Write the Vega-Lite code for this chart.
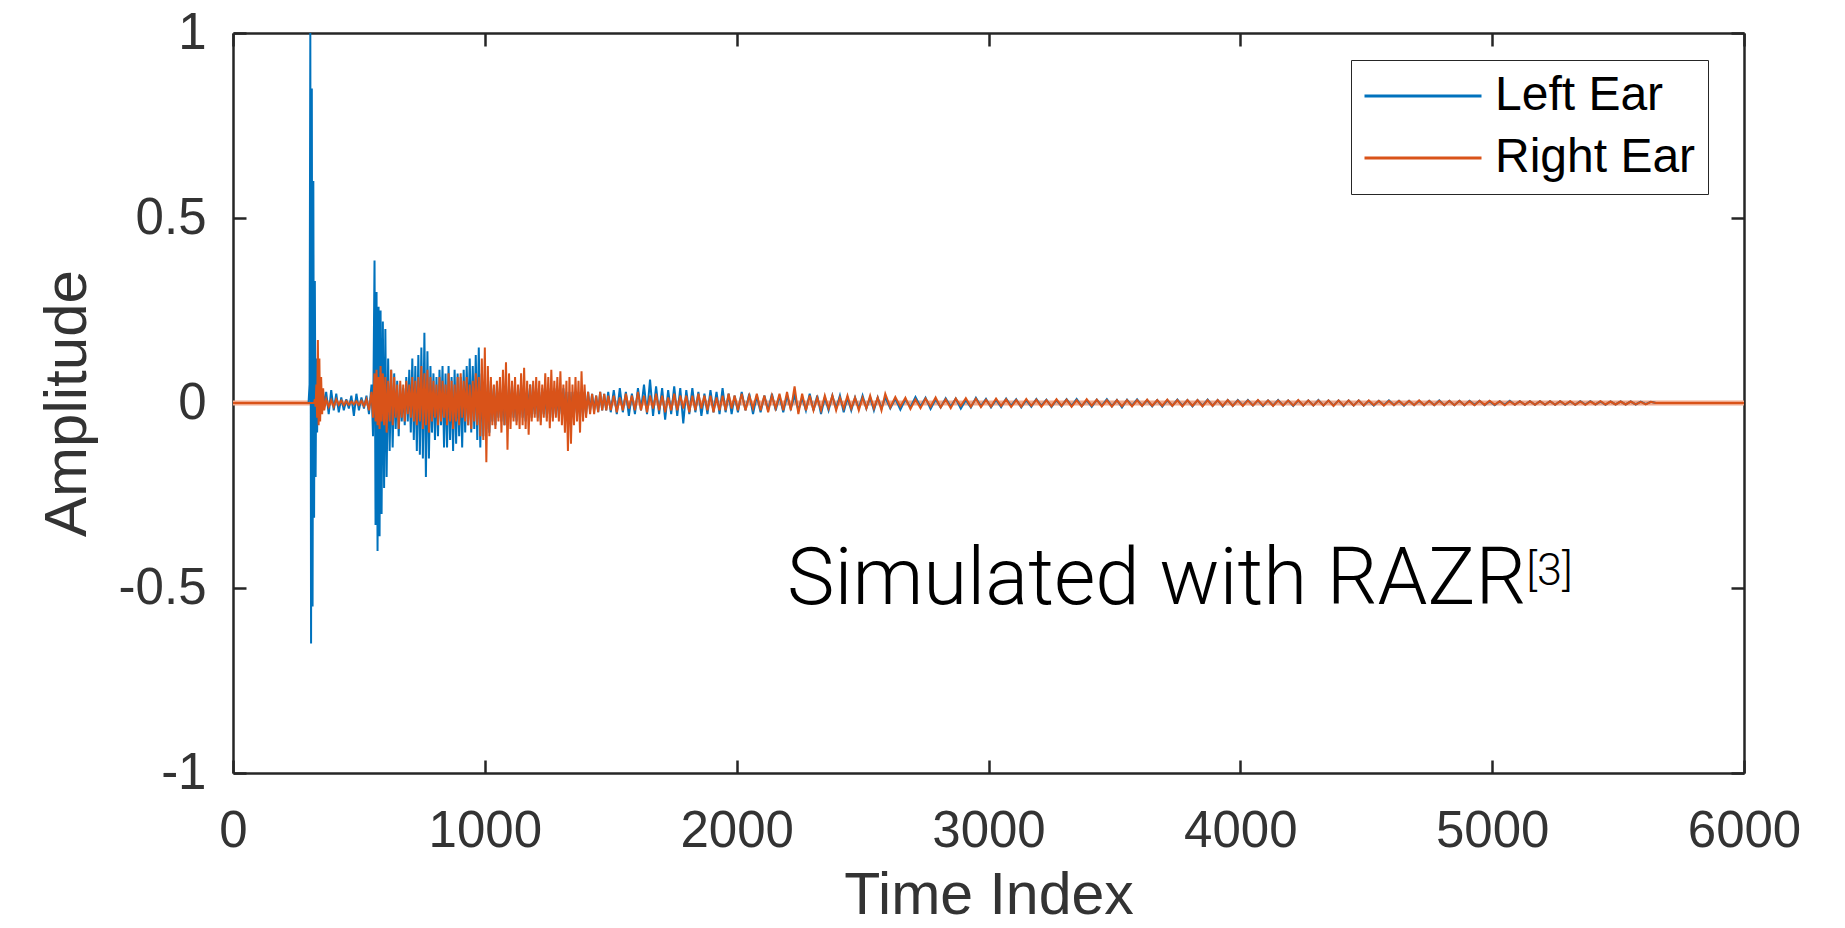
{
  "$schema": "https://vega.github.io/schema/vega-lite/v6.json",
  "width": 1511,
  "height": 740,
  "autosize": {"type": "none"},
  "padding": {"left": 233, "top": 33, "right": 101, "bottom": 155},
  "background": "white",
  "config": {"font": "Liberation Sans", "view": {"stroke": null}},
  "datasets": {
    "ir": [
      {"t":0,"L":0,"R":0},{"t":300,"L":0,"R":0},{"t":304,"L":0.05,"R":0},{"t":307,"L":1.0,"R":0},
      {"t":310,"L":-0.65,"R":0},{"t":313,"L":0.85,"R":0},{"t":316,"L":-0.55,"R":0},{"t":319,"L":0.6,"R":0},
      {"t":322,"L":-0.31,"R":0},{"t":325,"L":0.33,"R":0.01},{"t":328,"L":-0.2,"R":-0.01},{"t":331,"L":0.12,"R":0.05},
      {"t":334,"L":-0.08,"R":-0.04},{"t":337,"L":0.05,"R":0.17},{"t":340,"L":-0.04,"R":-0.06},{"t":343,"L":0.03,"R":0.12},
      {"t":346,"L":-0.03,"R":-0.05},{"t":350,"L":0.02,"R":0.07},{"t":354,"L":-0.02,"R":-0.03},{"t":358,"L":0.03,"R":0.04},
      {"t":362,"L":-0.01,"R":-0.02},{"t":370,"L":0.03,"R":0.01},{"t":380,"L":-0.03,"R":-0.01},{"t":390,"L":0.035,"R":0.008},
      {"t":400,"L":-0.02,"R":-0.01},{"t":410,"L":0.025,"R":0.01},{"t":420,"L":-0.025,"R":-0.005},{"t":430,"L":0.015,"R":0.006},
      {"t":440,"L":-0.02,"R":-0.006},{"t":450,"L":0.01,"R":0.005},{"t":460,"L":-0.015,"R":-0.005},{"t":470,"L":0.02,"R":0.004},
      {"t":480,"L":-0.035,"R":-0.004},{"t":490,"L":0.025,"R":0.005},{"t":500,"L":-0.02,"R":-0.005},{"t":510,"L":0.015,"R":0.006},
      {"t":520,"L":-0.015,"R":-0.008},{"t":530,"L":0.02,"R":0.01},{"t":540,"L":-0.03,"R":-0.02},
      {"t":550,"L":0.05,"R":0.03},{"t":556,"L":-0.09,"R":-0.04},{"t":562,"L":0.385,"R":0.08},{"t":566,"L":-0.33,"R":-0.05},
      {"t":570,"L":0.3,"R":0.09},{"t":574,"L":-0.4,"R":-0.06},{"t":578,"L":0.26,"R":0.07},{"t":582,"L":-0.36,"R":-0.07},
      {"t":586,"L":0.25,"R":0.1},{"t":590,"L":-0.3,"R":-0.05},{"t":595,"L":0.22,"R":0.08},{"t":600,"L":-0.23,"R":-0.06},
      {"t":605,"L":0.2,"R":0.07},{"t":610,"L":-0.2,"R":-0.08},{"t":616,"L":0.12,"R":0.06},{"t":622,"L":-0.13,"R":-0.05},
      {"t":628,"L":0.09,"R":0.09},{"t":634,"L":-0.12,"R":-0.06},{"t":640,"L":0.08,"R":0.07},{"t":646,"L":-0.07,"R":-0.04},
      {"t":652,"L":0.06,"R":0.05},{"t":658,"L":-0.09,"R":-0.07},{"t":664,"L":0.05,"R":0.06},{"t":670,"L":-0.05,"R":-0.04},
      {"t":676,"L":0.04,"R":0.05},{"t":682,"L":-0.06,"R":-0.05},{"t":688,"L":0.07,"R":0.06},{"t":694,"L":-0.05,"R":-0.03},
      {"t":700,"L":0.09,"R":0.05},{"t":706,"L":-0.08,"R":-0.04},{"t":712,"L":0.12,"R":0.07},{"t":718,"L":-0.1,"R":-0.05},
      {"t":724,"L":0.1,"R":0.06},{"t":730,"L":-0.13,"R":-0.06},{"t":736,"L":0.13,"R":0.07},{"t":742,"L":-0.14,"R":-0.05},
      {"t":748,"L":0.15,"R":0.1},{"t":754,"L":-0.15,"R":-0.07},{"t":760,"L":0.19,"R":0.08},{"t":766,"L":-0.2,"R":-0.06},
      {"t":772,"L":0.14,"R":0.09},{"t":778,"L":-0.15,"R":-0.08},{"t":784,"L":0.1,"R":0.07},{"t":790,"L":-0.08,"R":-0.05},
      {"t":796,"L":0.08,"R":0.06},{"t":802,"L":-0.1,"R":-0.04},{"t":808,"L":0.07,"R":0.05},{"t":814,"L":-0.09,"R":-0.06},
      {"t":820,"L":0.09,"R":0.07},{"t":826,"L":-0.06,"R":-0.05},{"t":832,"L":0.1,"R":0.06},{"t":838,"L":-0.12,"R":-0.04},
      {"t":844,"L":0.08,"R":0.05},{"t":850,"L":-0.12,"R":-0.06},{"t":856,"L":0.1,"R":0.08},{"t":862,"L":-0.1,"R":-0.05},
      {"t":868,"L":0.07,"R":0.06},{"t":874,"L":-0.13,"R":-0.07},{"t":880,"L":0.09,"R":0.05},{"t":886,"L":-0.11,"R":-0.05},
      {"t":892,"L":0.08,"R":0.07},{"t":898,"L":-0.09,"R":-0.06},{"t":904,"L":0.07,"R":0.08},{"t":910,"L":-0.12,"R":-0.04},
      {"t":916,"L":0.09,"R":0.06},{"t":922,"L":-0.08,"R":-0.05},{"t":928,"L":0.1,"R":0.07},{"t":934,"L":-0.06,"R":-0.06},
      {"t":940,"L":0.12,"R":0.05},{"t":946,"L":-0.08,"R":-0.07},{"t":952,"L":0.1,"R":0.06},{"t":958,"L":-0.07,"R":-0.05},
      {"t":964,"L":0.13,"R":0.08},{"t":970,"L":-0.1,"R":-0.06},{"t":976,"L":0.15,"R":0.07},{"t":982,"L":-0.12,"R":-0.09},
      {"t":988,"L":0.08,"R":0.12},{"t":994,"L":-0.09,"R":-0.1},{"t":1000,"L":0.06,"R":0.15},{"t":1006,"L":-0.07,"R":-0.16},
      {"t":1012,"L":0.05,"R":0.1},{"t":1018,"L":-0.08,"R":-0.09},{"t":1024,"L":0.06,"R":0.07},{"t":1030,"L":-0.05,"R":-0.06},
      {"t":1036,"L":0.04,"R":0.05},{"t":1042,"L":-0.06,"R":-0.07},{"t":1048,"L":0.05,"R":0.06},{"t":1054,"L":-0.04,"R":-0.05},
      {"t":1060,"L":0.03,"R":0.07},{"t":1066,"L":-0.05,"R":-0.08},{"t":1072,"L":0.04,"R":0.09},{"t":1078,"L":-0.06,"R":-0.06},
      {"t":1084,"L":0.05,"R":0.11},{"t":1090,"L":-0.05,"R":-0.126},{"t":1096,"L":0.04,"R":0.08},{"t":1102,"L":-0.03,"R":-0.07},
      {"t":1108,"L":0.05,"R":0.06},{"t":1114,"L":-0.04,"R":-0.05},{"t":1120,"L":0.03,"R":0.07},{"t":1126,"L":-0.05,"R":-0.06},
      {"t":1132,"L":0.04,"R":0.05},{"t":1138,"L":-0.03,"R":-0.07},{"t":1144,"L":0.05,"R":0.08},{"t":1150,"L":-0.04,"R":-0.06},
      {"t":1156,"L":0.03,"R":0.095},{"t":1162,"L":-0.05,"R":-0.07},{"t":1168,"L":0.04,"R":0.06},{"t":1174,"L":-0.03,"R":-0.086},
      {"t":1180,"L":0.05,"R":0.05},{"t":1186,"L":-0.04,"R":-0.05},{"t":1192,"L":0.03,"R":0.06},{"t":1198,"L":-0.03,"R":-0.04},
      {"t":1204,"L":0.04,"R":0.07},{"t":1210,"L":-0.04,"R":-0.05},{"t":1216,"L":0.03,"R":0.06},{"t":1222,"L":-0.05,"R":-0.06},
      {"t":1228,"L":0.04,"R":0.05},{"t":1234,"L":-0.03,"R":-0.04},{"t":1240,"L":0.03,"R":0.08},{"t":1246,"L":-0.04,"R":-0.05},
      {"t":1252,"L":0.04,"R":0.07},{"t":1258,"L":-0.03,"R":-0.068},{"t":1264,"L":0.03,"R":0.09},{"t":1270,"L":-0.04,"R":-0.05},
      {"t":1276,"L":0.04,"R":0.06},{"t":1282,"L":-0.03,"R":-0.04},{"t":1288,"L":0.03,"R":0.07},{"t":1294,"L":-0.04,"R":-0.05},
      {"t":1300,"L":0.03,"R":0.086},{"t":1306,"L":-0.03,"R":-0.06},{"t":1312,"L":0.04,"R":0.05},{"t":1318,"L":-0.03,"R":-0.08},
      {"t":1324,"L":0.03,"R":0.06},{"t":1330,"L":-0.04,"R":-0.13},{"t":1336,"L":0.03,"R":0.07},{"t":1342,"L":-0.03,"R":-0.11},
      {"t":1348,"L":0.03,"R":0.05},{"t":1354,"L":-0.03,"R":-0.06},{"t":1360,"L":0.03,"R":0.07},{"t":1366,"L":-0.03,"R":-0.05},
      {"t":1372,"L":0.03,"R":0.06},{"t":1378,"L":-0.04,"R":-0.08},{"t":1384,"L":0.03,"R":0.086},{"t":1390,"L":-0.03,"R":-0.05},
      {"t":1396,"L":0.03,"R":0.05},{"t":1402,"L":-0.03,"R":-0.04},{"t":1410,"L":0.03,"R":0.03},{"t":1418,"L":-0.02,"R":-0.03},
      {"t":1426,"L":0.025,"R":0.025},{"t":1434,"L":-0.02,"R":-0.03},{"t":1442,"L":0.02,"R":0.02},{"t":1450,"L":-0.025,"R":-0.025},
      {"t":1458,"L":0.03,"R":0.03},{"t":1466,"L":-0.02,"R":-0.02},{"t":1474,"L":0.025,"R":0.025},{"t":1482,"L":-0.02,"R":-0.02},
      {"t":1490,"L":0.03,"R":0.02},{"t":1500,"L":-0.025,"R":-0.02},
      {"t":1512,"L":0.035,"R":0.02},{"t":1524,"L":-0.03,"R":-0.025},{"t":1536,"L":0.04,"R":0.015},{"t":1548,"L":-0.025,"R":-0.02},
      {"t":1560,"L":0.03,"R":0.025},{"t":1572,"L":-0.035,"R":-0.015},{"t":1584,"L":0.025,"R":0.02},{"t":1596,"L":-0.03,"R":-0.02},
      {"t":1608,"L":0.04,"R":0.03},{"t":1620,"L":-0.02,"R":-0.02},{"t":1632,"L":0.05,"R":0.02},{"t":1644,"L":-0.03,"R":-0.025},
      {"t":1656,"L":0.063,"R":0.02},{"t":1668,"L":-0.035,"R":-0.015},{"t":1680,"L":0.045,"R":0.025},{"t":1692,"L":-0.03,"R":-0.02},
      {"t":1704,"L":0.04,"R":0.02},{"t":1716,"L":-0.045,"R":-0.025},{"t":1728,"L":0.035,"R":0.015},{"t":1740,"L":-0.03,"R":-0.02},
      {"t":1752,"L":0.045,"R":0.025},{"t":1764,"L":-0.035,"R":-0.02},{"t":1776,"L":0.04,"R":0.02},{"t":1788,"L":-0.055,"R":-0.015},
      {"t":1800,"L":0.035,"R":0.02},{"t":1812,"L":-0.03,"R":-0.025},{"t":1824,"L":0.04,"R":0.02},{"t":1836,"L":-0.025,"R":-0.02},
      {"t":1848,"L":0.03,"R":0.025},{"t":1860,"L":-0.035,"R":-0.015},{"t":1872,"L":0.025,"R":0.02},{"t":1884,"L":-0.03,"R":-0.02},
      {"t":1896,"L":0.035,"R":0.02},{"t":1908,"L":-0.025,"R":-0.025},{"t":1920,"L":0.03,"R":0.015},{"t":1932,"L":-0.03,"R":-0.02},
      {"t":1944,"L":0.04,"R":0.02},{"t":1956,"L":-0.025,"R":-0.02},{"t":1968,"L":0.025,"R":0.025},{"t":1980,"L":-0.03,"R":-0.015},
      {"t":1992,"L":0.02,"R":0.02},
      {"t":2005,"L":-0.025,"R":-0.02},{"t":2020,"L":0.03,"R":0.025},{"t":2035,"L":-0.02,"R":-0.02},{"t":2050,"L":0.025,"R":0.02},
      {"t":2065,"L":-0.03,"R":-0.015},{"t":2080,"L":0.02,"R":0.025},{"t":2095,"L":-0.025,"R":-0.02},{"t":2110,"L":0.02,"R":0.02},
      {"t":2125,"L":-0.02,"R":-0.025},{"t":2140,"L":0.025,"R":0.02},{"t":2155,"L":-0.02,"R":-0.015},{"t":2170,"L":0.02,"R":0.025},
      {"t":2185,"L":-0.025,"R":-0.02},{"t":2200,"L":0.02,"R":0.03},{"t":2215,"L":-0.015,"R":-0.02},{"t":2230,"L":0.02,"R":0.045},
      {"t":2245,"L":-0.02,"R":-0.03},{"t":2260,"L":0.015,"R":0.025},{"t":2275,"L":-0.02,"R":-0.02},{"t":2290,"L":0.025,"R":0.02},
      {"t":2305,"L":-0.02,"R":-0.02},{"t":2320,"L":0.02,"R":0.015},{"t":2335,"L":-0.03,"R":-0.02},{"t":2350,"L":0.015,"R":0.02},
      {"t":2365,"L":-0.02,"R":-0.015},{"t":2380,"L":0.02,"R":0.02},{"t":2395,"L":-0.015,"R":-0.02},{"t":2410,"L":0.02,"R":0.015},
      {"t":2425,"L":-0.025,"R":-0.015},{"t":2440,"L":0.015,"R":0.02},{"t":2455,"L":-0.02,"R":-0.015},{"t":2470,"L":0.015,"R":0.015},
      {"t":2485,"L":-0.015,"R":-0.02},{"t":2500,"L":0.02,"R":0.015},{"t":2515,"L":-0.015,"R":-0.015},{"t":2530,"L":0.015,"R":0.02},
      {"t":2545,"L":-0.02,"R":-0.015},{"t":2560,"L":0.015,"R":0.015},{"t":2575,"L":-0.015,"R":-0.02},{"t":2590,"L":0.015,"R":0.025},
      {"t":2610,"L":-0.015,"R":-0.012},{"t":2630,"L":0.012,"R":0.016},{"t":2650,"L":-0.018,"R":-0.01},{"t":2670,"L":0.01,"R":0.014},
      {"t":2690,"L":-0.012,"R":-0.016},{"t":2710,"L":0.016,"R":0.01},{"t":2730,"L":-0.01,"R":-0.014},{"t":2750,"L":0.014,"R":0.012},
      {"t":2770,"L":-0.016,"R":-0.01},{"t":2790,"L":0.01,"R":0.015},{"t":2810,"L":-0.012,"R":-0.012},{"t":2830,"L":0.013,"R":0.01},
      {"t":2850,"L":-0.01,"R":-0.014},{"t":2870,"L":0.012,"R":0.012},{"t":2890,"L":-0.015,"R":-0.008},{"t":2910,"L":0.008,"R":0.013},
      {"t":2930,"L":-0.012,"R":-0.01},{"t":2950,"L":0.014,"R":0.012},{"t":2970,"L":-0.009,"R":-0.011},{"t":2990,"L":0.011,"R":0.009},
      {"t":3010,"L":-0.012,"R":-0.01},{"t":3030,"L":0.009,"R":0.012},{"t":3050,"L":-0.011,"R":-0.008},{"t":3070,"L":0.012,"R":0.01},
      {"t":3090,"L":-0.008,"R":-0.011},{"t":3110,"L":0.01,"R":0.008},{"t":3130,"L":-0.012,"R":-0.01},{"t":3150,"L":0.008,"R":0.011},
      {"t":3170,"L":-0.01,"R":-0.008},{"t":3190,"L":0.011,"R":0.009},{"t":3210,"L":-0.008,"R":-0.01},{"t":3230,"L":0.009,"R":0.008},
      {"t":3250,"L":-0.011,"R":-0.009},{"t":3270,"L":0.008,"R":0.01},{"t":3290,"L":-0.009,"R":-0.008},{"t":3310,"L":0.01,"R":0.009},
      {"t":3330,"L":-0.008,"R":-0.01},{"t":3350,"L":0.011,"R":0.008},{"t":3370,"L":-0.009,"R":-0.009},{"t":3390,"L":0.008,"R":0.01},
      {"t":3410,"L":-0.01,"R":-0.008},{"t":3430,"L":0.009,"R":0.009},{"t":3450,"L":-0.008,"R":-0.009},{"t":3470,"L":0.01,"R":0.008},
      {"t":3490,"L":-0.009,"R":-0.01},{"t":3510,"L":0.008,"R":0.008},{"t":3530,"L":-0.012,"R":-0.009},{"t":3550,"L":0.009,"R":0.008},
      {"t":3570,"L":-0.008,"R":-0.009},{"t":3590,"L":0.01,"R":0.008},{"t":3610,"L":-0.008,"R":-0.008},{"t":3630,"L":0.008,"R":0.009},
      {"t":3650,"L":-0.009,"R":-0.008},{"t":3670,"L":0.008,"R":0.008},{"t":3690,"L":-0.01,"R":-0.008},{"t":3710,"L":0.008,"R":0.009},
      {"t":3730,"L":-0.008,"R":-0.008},{"t":3750,"L":0.009,"R":0.008},{"t":3770,"L":-0.008,"R":-0.009},{"t":3790,"L":0.008,"R":0.008},
      {"t":3810,"L":-0.009,"R":-0.008},{"t":3830,"L":0.008,"R":0.008},{"t":3850,"L":-0.008,"R":-0.009},{"t":3870,"L":0.009,"R":0.008},
      {"t":3890,"L":-0.008,"R":-0.008},{"t":3910,"L":0.008,"R":0.008},{"t":3930,"L":-0.009,"R":-0.008},{"t":3950,"L":0.008,"R":0.008},
      {"t":3970,"L":-0.008,"R":-0.008},{"t":3990,"L":0.008,"R":0.007},{"t":4010,"L":-0.007,"R":-0.008},{"t":4030,"L":0.008,"R":0.007},
      {"t":4050,"L":-0.007,"R":-0.007},{"t":4070,"L":0.007,"R":0.008},{"t":4090,"L":-0.008,"R":-0.007},{"t":4110,"L":0.007,"R":0.007},
      {"t":4130,"L":-0.007,"R":-0.008},{"t":4150,"L":0.008,"R":0.007},{"t":4170,"L":-0.007,"R":-0.007},{"t":4190,"L":0.007,"R":0.007},
      {"t":4210,"L":-0.008,"R":-0.007},{"t":4230,"L":0.007,"R":0.008},{"t":4250,"L":-0.007,"R":-0.007},{"t":4270,"L":0.007,"R":0.007},
      {"t":4290,"L":-0.007,"R":-0.007},{"t":4310,"L":0.008,"R":0.007},{"t":4330,"L":-0.007,"R":-0.007},{"t":4350,"L":0.007,"R":0.007},
      {"t":4370,"L":-0.007,"R":-0.008},{"t":4390,"L":0.007,"R":0.007},{"t":4410,"L":-0.008,"R":-0.007},{"t":4430,"L":0.007,"R":0.007},
      {"t":4450,"L":-0.007,"R":-0.007},{"t":4470,"L":0.007,"R":0.007},{"t":4490,"L":-0.007,"R":-0.007},{"t":4510,"L":0.006,"R":0.007},
      {"t":4530,"L":-0.007,"R":-0.006},{"t":4550,"L":0.006,"R":0.006},{"t":4570,"L":-0.006,"R":-0.007},{"t":4590,"L":0.007,"R":0.006},
      {"t":4610,"L":-0.006,"R":-0.006},{"t":4630,"L":0.006,"R":0.006},{"t":4650,"L":-0.007,"R":-0.006},{"t":4670,"L":0.006,"R":0.006},
      {"t":4690,"L":-0.006,"R":-0.006},{"t":4710,"L":0.006,"R":0.007},{"t":4730,"L":-0.006,"R":-0.006},{"t":4750,"L":0.006,"R":0.006},
      {"t":4770,"L":-0.006,"R":-0.006},{"t":4790,"L":0.007,"R":0.006},{"t":4810,"L":-0.006,"R":-0.006},{"t":4830,"L":0.006,"R":0.006},
      {"t":4850,"L":-0.006,"R":-0.006},{"t":4870,"L":0.006,"R":0.006},{"t":4890,"L":-0.006,"R":-0.006},{"t":4910,"L":0.006,"R":0.005},
      {"t":4930,"L":-0.005,"R":-0.006},{"t":4950,"L":0.006,"R":0.006},{"t":4970,"L":-0.006,"R":-0.005},{"t":4990,"L":0.005,"R":0.006},
      {"t":5010,"L":-0.006,"R":-0.005},{"t":5030,"L":0.005,"R":0.005},{"t":5050,"L":-0.005,"R":-0.006},{"t":5070,"L":0.006,"R":0.005},
      {"t":5090,"L":-0.005,"R":-0.005},{"t":5110,"L":0.005,"R":0.005},{"t":5130,"L":-0.005,"R":-0.005},{"t":5150,"L":0.005,"R":0.005},
      {"t":5170,"L":-0.005,"R":-0.005},{"t":5190,"L":0.005,"R":0.005},{"t":5210,"L":-0.005,"R":-0.005},{"t":5230,"L":0.005,"R":0.005},
      {"t":5250,"L":-0.005,"R":-0.005},{"t":5270,"L":0.005,"R":0.005},{"t":5290,"L":-0.005,"R":-0.004},{"t":5310,"L":0.004,"R":0.005},
      {"t":5330,"L":-0.005,"R":-0.005},{"t":5350,"L":0.005,"R":0.004},{"t":5370,"L":-0.004,"R":-0.005},{"t":5390,"L":0.005,"R":0.004},
      {"t":5410,"L":-0.004,"R":-0.004},{"t":5430,"L":0.004,"R":0.005},{"t":5450,"L":-0.005,"R":-0.004},{"t":5470,"L":0.004,"R":0.004},
      {"t":5490,"L":-0.004,"R":-0.004},{"t":5510,"L":0.004,"R":0.004},{"t":5530,"L":-0.004,"R":-0.004},{"t":5550,"L":0.004,"R":0.004},
      {"t":5570,"L":-0.004,"R":-0.004},{"t":5590,"L":0.004,"R":0.003},{"t":5610,"L":-0.003,"R":-0.004},{"t":5630,"L":0.003,"R":0.003},
      {"t":5650,"L":0,"R":0},{"t":6000,"L":0,"R":0}
    ]
  },
  "resolve": {"axis": {"x": "independent", "y": "independent"}},
  "layer": [
    {
      "data": {"values": [{}]},
      "mark": {"type": "rule", "color": "#F0A98C", "strokeWidth": 5},
      "encoding": {
        "y": {"datum": 0, "type": "quantitative", "axis": null}
      }
    },
    {
      "data": {"name": "ir"},
      "transform": [{"fold": ["L", "R"], "as": ["ear", "amp"]}],
      "mark": {"type": "line", "strokeWidth": 2, "interpolate": "linear"},
      "encoding": {
        "x": {
          "field": "t", "type": "quantitative",
          "scale": {"domain": [0, 6000], "nice": false, "zero": false},
          "axis": {
            "orient": "bottom", "values": [0, 1000, 2000, 3000, 4000, 5000, 6000], "format": "d",
            "grid": false, "domainColor": "#262626", "domainWidth": 2.5,
            "tickColor": "#262626", "tickWidth": 2.5, "tickSize": -13,
            "labelFont": "Liberation Sans", "labelFontSize": 51, "labelColor": "#333333",
            "labelPadding": 46, "labelFlush": false, "labelOverlap": false,
            "title": "Time Index", "titleFont": "Liberation Sans", "titleFontSize": 59,
            "titleFontWeight": "normal", "titleColor": "#333333", "titlePadding": 10
          }
        },
        "y": {
          "field": "amp", "type": "quantitative",
          "scale": {"domain": [-1, 1], "nice": false, "zero": false},
          "axis": {
            "orient": "left", "values": [-1, -0.5, 0, 0.5, 1],
            "labelExpr": "datum.value == 0 ? '0' : (datum.value < 0 ? '-' : '') + format(abs(datum.value), '~g')",
            "grid": false, "domainColor": "#262626", "domainWidth": 2.5,
            "tickColor": "#262626", "tickWidth": 2.5, "tickSize": -13,
            "labelFont": "Liberation Sans", "labelFontSize": 51, "labelColor": "#333333",
            "labelPadding": 40, "labelFlush": false, "labelOverlap": false,
            "title": "Amplitude", "titleFont": "Liberation Sans", "titleFontSize": 60,
            "titleFontWeight": "normal", "titleColor": "#333333", "titlePadding": 20
          }
        },
        "color": {
          "field": "ear", "type": "nominal",
          "scale": {"domain": ["L", "R"], "range": ["#0072BD", "#D95319"]},
          "legend": {
            "orient": "none", "legendX": 1118, "legendY": 27, "title": null,
            "symbolType": "stroke", "symbolSize": 13689, "symbolStrokeWidth": 3,
            "clipHeight": 48,
            "labelFont": "Liberation Sans", "labelFontSize": 48, "labelColor": "#000000",
            "labelLimit": 500, "labelOffset": 12, "rowPadding": 14, "padding": 12,
            "strokeColor": "#262626", "fillColor": "white",
            "labelExpr": "datum.label == 'L' ? 'Left Ear' : 'Right Ear'"
          }
        }
      }
    },
    {
      "data": {"values": [{}]},
      "mark": {"type": "point", "opacity": 0},
      "encoding": {
        "x": {
          "datum": 0, "type": "quantitative",
          "axis": {
            "orient": "top", "values": [0, 1000, 2000, 3000, 4000, 5000, 6000],
            "grid": false, "labels": false, "title": null,
            "domainColor": "#262626", "domainWidth": 2.5,
            "tickColor": "#262626", "tickWidth": 2.5, "tickSize": -13
          }
        },
        "y": {
          "datum": 0, "type": "quantitative",
          "axis": {
            "orient": "right", "values": [-1, -0.5, 0, 0.5, 1],
            "grid": false, "labels": false, "title": null,
            "domainColor": "#262626", "domainWidth": 2.5,
            "tickColor": "#262626", "tickWidth": 2.5, "tickSize": -13
          }
        }
      }
    },
    {
      "data": {"values": [{}]},
      "mark": {"type": "text", "text": "Simulated with RAZR", "font": "Roboto", "fontWeight": 300, "fontSize": 80, "align": "left", "baseline": "alphabetic", "color": "#000000"},
      "encoding": {
        "x": {"datum": 2200, "type": "quantitative", "axis": null},
        "y": {"datum": -0.543, "type": "quantitative", "axis": null}
      }
    },
    {
      "data": {"values": [{}]},
      "mark": {"type": "text", "text": "[3]", "font": "Roboto", "fontWeight": 300, "fontSize": 45, "align": "left", "baseline": "alphabetic", "color": "#000000"},
      "encoding": {
        "x": {"datum": 5135, "type": "quantitative", "axis": null},
        "y": {"datum": -0.492, "type": "quantitative", "axis": null}
      }
    }
  ]
}
